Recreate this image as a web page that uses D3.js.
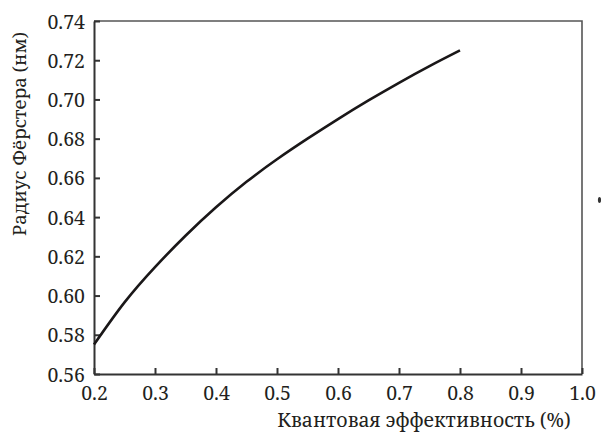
<!DOCTYPE html>
<html>
<head>
<meta charset="utf-8">
<script src="https://cdn.jsdelivr.net/npm/d3@7/dist/d3.min.js"></script>
<style>
  html, body { margin: 0; padding: 0; background: #fff; }
  svg { display: block; }
  svg text { font-family: "Noto Serif", "DejaVu Serif", serif; fill: #231f20; }
</style>
</head>
<body>
<svg id="chart" width="601" height="435"></svg>
<script>
// Quantum yield (fraction) and corresponding Förster radius (nm)
const quantumYield = [0.20, 0.25, 0.30, 0.35, 0.40, 0.45, 0.50, 0.55, 0.60, 0.65, 0.70, 0.75, 0.80];
const forsterRadius = [0.575, 0.5965, 0.6145, 0.6305, 0.645, 0.658, 0.6695, 0.680, 0.690, 0.6995, 0.7085, 0.717, 0.725];

const xTicks = [0.2, 0.3, 0.4, 0.5, 0.6, 0.7, 0.8, 0.9, 1.0];
const yTicks = [0.56, 0.58, 0.60, 0.62, 0.64, 0.66, 0.68, 0.70, 0.72, 0.74];

const xTitle = "Квантовая эффективность (%)";
const yTitle = "Радиус Фёрстера (нм)";

const svg = d3.select("#chart");
const margin = { left: 94, top: 21, right: 19, bottom: 61 };
const W = 601, H = 435;
const iw = W - margin.left - margin.right;
const ih = H - margin.top - margin.bottom;

const x = d3.scaleLinear().domain([0.2, 1.0]).range([0, iw]);
const y = d3.scaleLinear().domain([0.56, 0.74]).range([ih, 0]);

const g = svg.append("g").attr("transform", `translate(${margin.left},${margin.top})`);

// Frame (top and right sides)
g.append("path")
  .attr("d", `M0,0H${iw}V${ih}`)
  .attr("fill", "none")
  .attr("stroke", "#555")
  .attr("stroke-width", 1.6);

// Bottom axis with inward ticks
const xAxis = g.append("g")
  .attr("transform", `translate(0,${ih})`)
  .call(d3.axisBottom(x).tickValues(xTicks).tickSizeInner(-6).tickSizeOuter(0)
    .tickPadding(16).tickFormat(d3.format(".1f")));

// Left axis with inward ticks
const yAxis = g.append("g")
  .call(d3.axisLeft(y).tickValues(yTicks).tickSizeInner(-6).tickSizeOuter(0)
    .tickPadding(16).tickFormat(d3.format(".2f")));

[xAxis, yAxis].forEach(a => {
  a.attr("font-family", null).attr("font-size", null);
  a.select(".domain").attr("stroke", "#333").attr("stroke-width", 2);
  a.selectAll(".tick line").attr("stroke", "#333").attr("stroke-width", 2);
  a.selectAll(".tick text")
    .style("font-size", "19.5px")
    .attr("fill", "#231f20");
});
xAxis.selectAll(".tick text").attr("dy", "0.5em");
yAxis.selectAll(".tick text").attr("dx", "7px").attr("dy", "0.36em");

// Curve
const line = d3.line()
  .x((d, i) => x(quantumYield[i]))
  .y(d => y(d))
  .curve(d3.curveNatural);

g.append("path")
  .datum(forsterRadius)
  .attr("d", line)
  .attr("fill", "none")
  .attr("stroke", "#1a1718")
  .attr("stroke-width", 2.6)
  .attr("stroke-linecap", "butt");

// Axis titles
svg.append("text")
  .attr("x", 424)
  .attr("y", 427)
  .attr("text-anchor", "middle")
  .style("font-size", "19.5px")
  .text(xTitle);

svg.append("text")
  .attr("transform", "translate(26,134) rotate(-90)")
  .attr("text-anchor", "middle")
  .style("font-size", "18.5px")
  .text(yTitle);

// Small mark at the right edge
svg.append("ellipse")
  .attr("cx", 599.5).attr("cy", 200)
  .attr("rx", 1.6).attr("ry", 3)
  .attr("fill", "#333");
</script>
</body>
</html>
